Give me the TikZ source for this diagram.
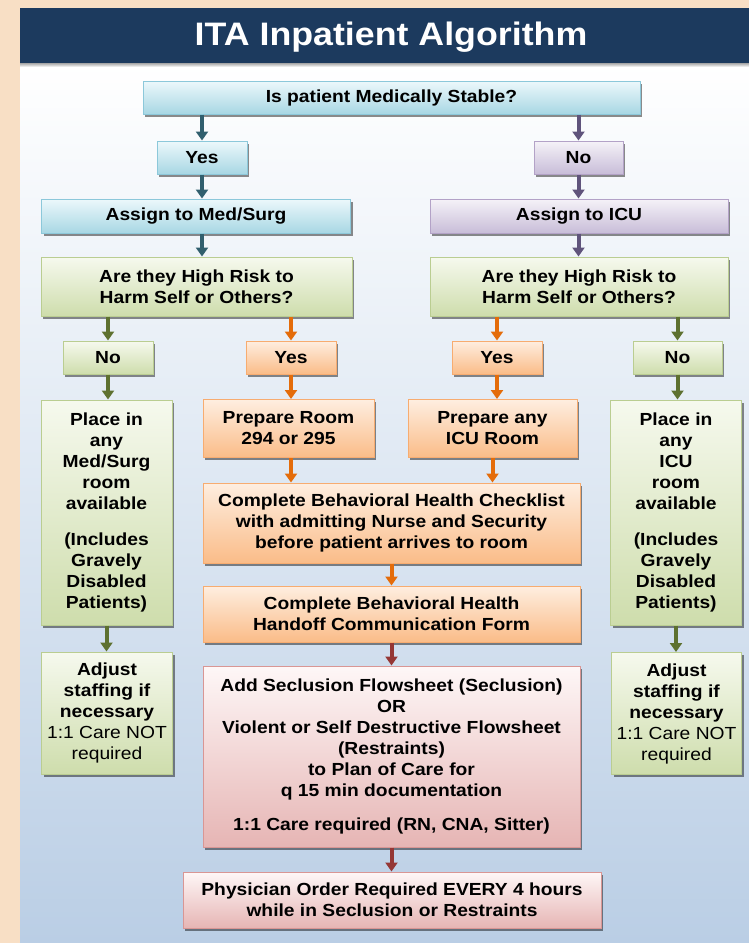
\documentclass[tikz,border=0pt]{standalone}
\usepackage{fontspec}
\setmainfont{Liberation Sans}[FakeStretch=1.1]
\usetikzlibrary{arrows.meta,shadows,calc}
\definecolor{navy}{RGB}{28,58,94}
\definecolor{peach}{RGB}{248,223,197}
\definecolor{bgblue}{RGB}{186,206,229}
\definecolor{cyanT}{RGB}{236,248,251}
\definecolor{cyanB}{RGB}{168,215,228}
\definecolor{cyanD}{RGB}{140,200,218}
\definecolor{lavT}{RGB}{245,242,248}
\definecolor{lavB}{RGB}{200,189,216}
\definecolor{lavD}{RGB}{179,162,199}
\definecolor{grnT}{RGB}{246,249,238}
\definecolor{grnB}{RGB}{206,221,172}
\definecolor{grnD}{RGB}{186,205,145}
\definecolor{orT}{RGB}{254,238,224}
\definecolor{orB}{RGB}{250,188,136}
\definecolor{orD}{RGB}{247,172,112}
\definecolor{pkT}{RGB}{254,247,247}
\definecolor{pkB}{RGB}{230,181,180}
\definecolor{pkD}{RGB}{217,150,148}
\definecolor{aTeal}{RGB}{49,95,110}
\definecolor{aPurp}{RGB}{96,84,124}
\definecolor{aGrn}{RGB}{94,113,48}
\definecolor{aOr}{RGB}{228,108,10}
\definecolor{aRed}{RGB}{149,55,53}
\tikzset{
  box/.style={rectangle, line width=1pt, align=center, inner sep=2pt,
    font=\fontsize{17.5}{21}\selectfont\bfseries,
    drop shadow={shadow xshift=2pt, shadow yshift=-2.5pt, opacity=0.45, fill=black}},
  cbox/.style={box, draw=cyanD, top color=cyanT, bottom color=cyanB},
  lbox/.style={box, draw=lavD, top color=lavT, bottom color=lavB},
  gbox/.style={box, draw=grnD, top color=grnT, bottom color=grnB},
  obox/.style={box, draw=orD, top color=orT, bottom color=orB},
  pbox/.style={box, draw=pkD, top color=pkT, bottom color=pkB},
  arr/.style={line width=4pt, -{Triangle[length=9pt,width=12pt]}},
}
\begin{document}
\begin{tikzpicture}[x=1pt,y=-1pt]
\useasboundingbox (0,0) rectangle (749,943);
% background
\fill[peach] (0,0) rectangle (749,943);
\shade[top color=white, bottom color=bgblue] (20,63) rectangle (749,943);
\shade[top color=black!35, bottom color=white] (20,63) rectangle (749,67);
\fill[navy] (20,8) rectangle (749,63);
\node[text=white, font=\fontsize{32.5}{36}\selectfont\bfseries, anchor=base] (title) at (391,45) {ITA Inpatient Algorithm};

% nodes
\node[cbox, minimum width=497pt, minimum height=33pt] (q1) at (391.5,97.5) {Is patient Medically Stable?};
\node[cbox, minimum width=90pt, minimum height=33pt] (yes1) at (202,157.5) {Yes};
\node[lbox, minimum width=89pt, minimum height=33pt] (no1) at (578.5,157.5) {No};
\node[cbox, minimum width=309pt, minimum height=34pt] (med) at (196,216) {Assign to Med/Surg};
\node[lbox, minimum width=298pt, minimum height=34pt] (icu) at (579,216) {Assign to ICU};
\node[gbox, minimum width=311pt, minimum height=59pt] (hrl) at (196.5,286.5) {Are they High Risk to\\Harm Self or Others?};
\node[gbox, minimum width=298pt, minimum height=59pt] (hrr) at (579,286.5) {Are they High Risk to\\Harm Self or Others?};
\node[gbox, minimum width=90pt, minimum height=33pt] (nol) at (108,357.5) {No};
\node[obox, minimum width=90pt, minimum height=33pt] (yesl) at (291,357.5) {Yes};
\node[obox, minimum width=90pt, minimum height=33pt] (yesr) at (497,357.5) {Yes};
\node[gbox, minimum width=89pt, minimum height=33pt] (nor) at (677.5,357.5) {No};
\node[gbox, minimum width=131pt, minimum height=225pt] (placel) at (106.5,512.5) {Place in\\any\\Med/Surg\\room\\available\\[15pt](Includes\\Gravely\\Disabled\\Patients)};
\node[gbox, minimum width=131pt, minimum height=225pt] (placer) at (676,512.5) {Place in\\any\\ICU\\room\\available\\[15pt](Includes\\Gravely\\Disabled\\Patients)};
\node[obox, minimum width=171pt, minimum height=58pt] (prep1) at (288.5,428.5) {Prepare Room\\294 or 295};
\node[obox, minimum width=169pt, minimum height=58pt] (prep2) at (492.5,428.5) {Prepare any\\ICU Room};
\node[obox, minimum width=377pt, minimum height=80pt] (check) at (391.5,523) {Complete Behavioral Health Checklist\\with admitting Nurse and Security\\before patient arrives to room};
\node[obox, minimum width=377pt, minimum height=56pt] (handoff) at (391.5,614) {Complete Behavioral Health\\Handoff Communication Form};
\node[gbox, minimum width=131pt, minimum height=122pt] (adjl) at (107,713) {Adjust\\staffing if\\necessary\\{\mdseries 1:1 Care NOT}\\{\mdseries required}};
\node[gbox, minimum width=130pt, minimum height=122pt] (adjr) at (676.5,713.5) {Adjust\\staffing if\\necessary\\{\mdseries 1:1 Care NOT}\\{\mdseries required}};
\node[pbox, minimum width=377pt, minimum height=181pt] (secl) at (391.5,756.5) {Add Seclusion Flowsheet (Seclusion)\\OR\\Violent or Self Destructive Flowsheet\\(Restraints)\\to Plan of Care for\\q 15 min documentation\\[13pt]1:1 Care required (RN, CNA, Sitter)};
\node[pbox, minimum width=418pt, minimum height=56pt] (phys) at (392,900) {Physician Order Required EVERY 4 hours\\while in Seclusion or Restraints};

% connectors
\draw[arr, aTeal] (q1.south -| yes1) -- (yes1.north);
\draw[arr, aPurp] (q1.south -| no1) -- (no1.north);
\draw[arr, aTeal] (yes1.south) -- (med.north -| yes1.south);
\draw[arr, aPurp] (no1.south) -- (icu.north -| no1.south);
\draw[arr, aTeal] (med.south -| yes1) -- (hrl.north -| yes1);
\draw[arr, aPurp] (icu.south -| no1) -- (hrr.north -| no1);
\draw[arr, aGrn] (hrl.south -| nol) -- (nol.north);
\draw[arr, aOr] (hrl.south -| yesl) -- (yesl.north);
\draw[arr, aOr] (hrr.south -| yesr) -- (yesr.north);
\draw[arr, aGrn] (hrr.south -| nor) -- (nor.north);
\draw[arr, aGrn] (nol.south) -- (placel.north -| nol.south);
\draw[arr, aOr] (yesl.south) -- (prep1.north -| yesl.south);
\draw[arr, aOr] (yesr.south) -- (prep2.north -| yesr.south);
\draw[arr, aGrn] (nor.south) -- (placer.north -| nor.south);
\draw[arr, aGrn] (placel.south) -- (adjl.north -| placel.south);
\draw[arr, aGrn] (placer.south) -- (adjr.north -| placer.south);
\draw[arr, aOr] (prep1.south -| yesl) -- (check.north -| yesl);
\draw[arr, aOr] (prep2.south) -- (check.north -| prep2.south);
\draw[arr, aOr] (check.south) -- (handoff.north);
\draw[arr, aRed] (handoff.south) -- (secl.north);
\draw[arr, aRed] (secl.south) -- (phys.north -| secl.south);
\end{tikzpicture}
\end{document}
